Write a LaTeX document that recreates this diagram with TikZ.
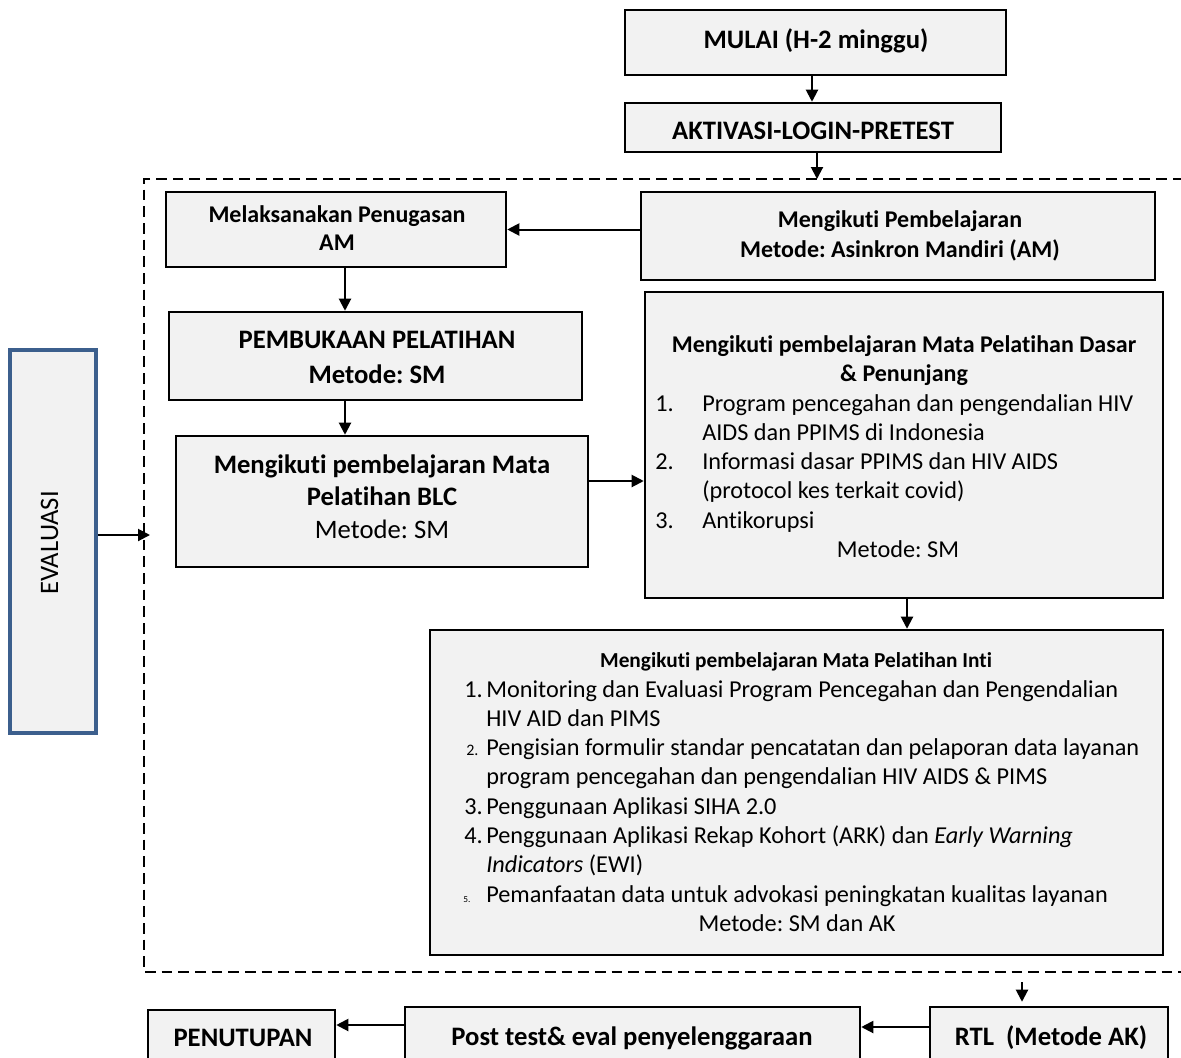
\documentclass[tikz,border=0pt]{standalone}
\usepackage{fontspec}
\setmainfont{Carlito}[Ligatures=NoCommon]
\usetikzlibrary{arrows.meta,fit}
\definecolor{boxfill}{HTML}{F2F2F2}
\definecolor{evalblue}{HTML}{3C5F8D}
\newcommand{\fsz}[1]{\fontsize{#1}{#1}\selectfont}
\frenchspacing
\tikzset{
  x=0.75pt, y=-0.75pt,
  box/.style={draw=black, fill=boxfill, line width=1.9pt, inner sep=0pt},
  evalbox/.style={draw=evalblue, fill=boxfill, line width=3pt, inner sep=0pt},
  arr/.style={line width=1.5pt, -{Triangle[length=9pt,width=9pt]}},
  tc/.style={inner sep=0pt, anchor=base},
  tl/.style={inner sep=0pt, anchor=base west},
  hb/.style={font=\fsz{20pt}\bfseries},
  rg/.style={font=\fsz{18.2pt}},
  dashline/.style={line width=1.5pt, dash pattern=on 8pt off 4.5pt},
}
\begin{document}
\begin{tikzpicture}
\useasboundingbox (0,0) rectangle (1181,1057);
\clip (0,0) rectangle (1181,1057);

% dashed frame
\draw[dashline] (1200,179) -- (144,179) -- (144,972) -- (1200,972);
\coordinate (dtop) at (817,179);
\coordinate (dleft) at (150,535);
\coordinate (dbot) at (1022,982);

% boxes
\node[box, fit={(625,10)(1006,75)}] (mulai) {};
\node[box, fit={(625,103)(1001,152)}] (aktiv) {};
\node[box, fit={(166,192)(506,267)}] (melak) {};
\node[box, fit={(641,192)(1155,280)}] (am) {};
\node[box, fit={(169,312)(582,400)}] (pemb) {};
\node[box, fit={(176,436)(588,567)}] (blc) {};
\node[box, fit={(645,292)(1163,598)}] (dasar) {};
\node[box, fit={(430,630)(1163,955)}] (inti) {};
\node[evalbox, fit={(10,350)(96,733)}] (evalb) {};
\node[box, fit={(148,1010)(335,1080)}] (tutup) {};
\node[box, fit={(405,1007)(860,1080)}] (post) {};
\node[box, fit={(930,1007)(1168,1080)}] (rtl) {};

% texts
\node[tc, hb] (t1) at (816,48) {MULAI (H-2 minggu)};
\node[tc, hb] (t2) at (813,139) {AKTIVASI-LOGIN-PRETEST};
\node[tc, font=\fsz{18pt}\bfseries] (t3a) at (337,222) {Melaksanakan Penugasan};
\node[tc, font=\fsz{18pt}\bfseries] (t3b) at (337,250) {AM};
\node[tc, font=\fsz{18pt}\bfseries] (t4a) at (900,227) {Mengikuti Pembelajaran};
\node[tc, font=\fsz{18pt}\bfseries] (t4b) at (900,257) {Metode: Asinkron Mandiri (AM)};
\node[tc, hb] (t5a) at (377,348) {PEMBUKAAN PELATIHAN};
\node[tc, hb] (t5b) at (377,383) {Metode: SM};
\node[tc, font=\fsz{20pt}\bfseries] (t6a) at (382,473) {Mengikuti pembelajaran Mata};
\node[tc, font=\fsz{20pt}\bfseries] (t6b) at (382,505) {Pelatihan BLC};
\node[tc, font=\fsz{20pt}] (t6c) at (382,538) {Metode: SM};

\node[tc, font=\fsz{18pt}\bfseries] (t7a) at (904,352) {Mengikuti pembelajaran Mata Pelatihan Dasar};
\node[tc, font=\fsz{18pt}\bfseries] (t7b) at (904,381) {\& Penunjang};
\node[tl, rg] (n71) at (655,411) {1.};
\node[tl, rg] (i71a) at (702,411) {Program pencegahan dan pengendalian HIV};
\node[tl, rg] (i71b) at (702,440) {AIDS dan PPIMS di Indonesia};
\node[tl, rg] (n72) at (655,469) {2.};
\node[tl, rg] (i72a) at (702,469) {Informasi dasar PPIMS dan HIV AIDS};
\node[tl, rg] (i72b) at (702,498) {(protocol kes terkait covid)};
\node[tl, rg] (n73) at (655,528) {3.};
\node[tl, rg] (i73) at (702,528) {Antikorupsi};
\node[tc, rg] (t7m) at (898,557) {Metode: SM};

\node[tc, font=\fsz{16pt}\bfseries] (t8) at (796,667) {Mengikuti pembelajaran Mata Pelatihan Inti};
\node[tl, rg] (n81) at (464,697) {1.};
\node[tl, rg] (i81a) at (486,697) {Monitoring dan Evaluasi Program Pencegahan dan Pengendalian};
\node[tl, rg] (i81b) at (486,726) {HIV AID dan PIMS};
\node[tl, font=\fsz{12pt}] (n82) at (466,755) {2.};
\node[tl, rg] (i82a) at (486,755) {Pengisian formulir standar pencatatan dan pelaporan data layanan};
\node[tl, rg] (i82b) at (486,784) {program pencegahan dan pengendalian HIV AIDS \& PIMS};
\node[tl, rg] (n83) at (464,814) {3.};
\node[tl, rg] (i83) at (486,814) {Penggunaan Aplikasi SIHA 2.0};
\node[tl, rg] (n84) at (464,843) {4.};
\node[tl, rg] (i84a) at (486,843) {Penggunaan Aplikasi Rekap Kohort (ARK) dan \textit{Early Warning}};
\node[tl, rg] (i84b) at (486,872) {\textit{Indicators} (EWI)};
\node[tl, font=\fsz{7pt}] (n85) at (463,902) {5.};
\node[tl, rg] (i85) at (486,902) {Pemanfaatan data untuk advokasi peningkatan kualitas layanan};
\node[tc, rg] (t8m) at (797,931) {Metode: SM dan AK};

\node[tc, font=\fsz{20pt}, rotate=90] (t9) at (58,543) {EVALUASI};
\node[tc, hb] (t10) at (243,1046) {PENUTUPAN};
\node[tc, hb] (t11) at (632,1045) {Post test\& eval penyelenggaraan};
\node[tc, hb] (t12) at (1051,1045) {RTL~~(Metode AK)};

% connectors
\draw[arr] (mulai.south -| 812,0) -- (aktiv.north -| 812,0);
\draw[arr] (aktiv.south -| dtop) -- (dtop);
\draw[arr] (am.west |- melak.east) -- (melak.east);
\draw[arr] (melak.south -| 345,0) -- (pemb.north -| 345,0);
\draw[arr] (pemb.south -| 345,0) -- (blc.north -| 345,0);
\draw[arr] (blc.east |- 0,481) -- (dasar.west |- 0,481);
\draw[arr] (dasar.south -| 907,0) -- (inti.north -| 907,0);
\draw[arr] (evalb.east |- dleft) -- (dleft);
\draw[arr] (dbot) -- ([yshift=3pt]rtl.north -| dbot);
\draw[arr] (rtl.west |- 0,1027) -- (post.east |- 0,1027);
\draw[arr] (post.west |- 0,1025) -- (tutup.east |- 0,1025);
\end{tikzpicture}
\end{document}
